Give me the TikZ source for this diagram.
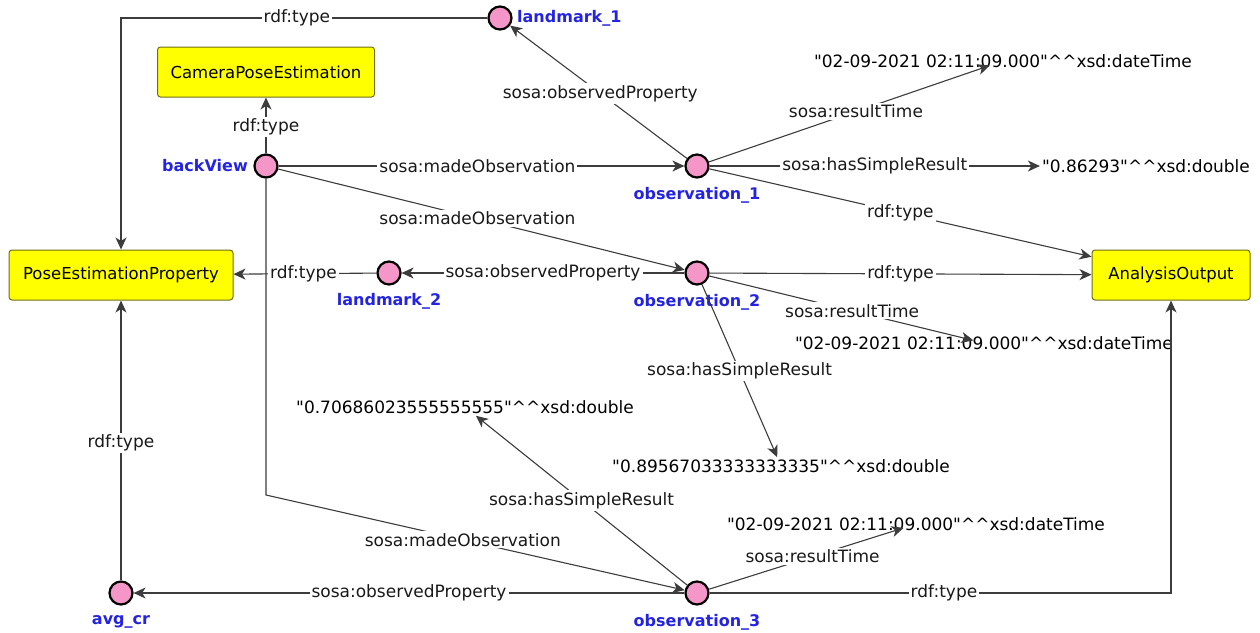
\documentclass[tikz,border=0pt]{standalone}
\usepackage{fontspec}
\setmainfont{DejaVu Sans}[Ligatures=TeXOff]
\usetikzlibrary{arrows.meta}
\definecolor{pinkfill}{RGB}{244,150,200}
\definecolor{boxfill}{RGB}{255,255,0}
\definecolor{boxline}{RGB}{110,110,20}
\definecolor{namecol}{RGB}{35,35,225}
\definecolor{edgecol}{RGB}{60,60,60}
\newcommand{\hh}{\textasciicircum\textasciicircum}
\newcommand{\qq}{"}
\tikzset{
  res/.style={circle, fill=pinkfill, draw=black, line width=2.2pt, minimum size=23pt, inner sep=0pt},
  cls/.style={rectangle, rounded corners=3pt, fill=boxfill, draw=boxline, line width=1pt,
              minimum height=50pt, inner sep=0pt, font=\fontsize{16.5}{19}\selectfont},
  lit/.style={inner sep=2pt, font=\fontsize{17}{20}\selectfont},
  nm/.style={inner sep=0pt, text=namecol, font=\fontsize{16}{19}\selectfont\bfseries},
  lbl/.style={fill=white, inner sep=2pt, text=black!90, font=\fontsize{17}{20}\selectfont},
  arr/.style={draw=edgecol, line width=1.1pt, -{Stealth[length=12pt,width=11pt,inset=3.5pt]}},
}
\begin{document}
\begin{tikzpicture}[x=1pt,y=-1pt]
\useasboundingbox (0,0) rectangle (1260,632);
% resources
\node[res] (lm1) at (500,18) {};
\node[res] (bv) at (266,166) {};
\node[res] (obs1) at (697,166) {};
\node[res] (lm2) at (389,273) {};
\node[res] (obs2) at (697,273) {};
\node[res] (avg) at (121,593) {};
\node[res] (obs3) at (697,593) {};
% resource names
\node[nm, anchor=west] (lm1n) at (517,18) {landmark\_1};
\node[nm, anchor=east] (bvn) at (248,166) {backView};
\node[nm] (obs1n) at (697,195) {observation\_1};
\node[nm] (lm2n) at (389,301) {landmark\_2};
\node[nm] (obs2n) at (697,302) {observation\_2};
\node[nm] (avgn) at (121,622) {avg\_cr};
\node[nm] (obs3n) at (697,622) {observation\_3};
% classes
\node[cls, minimum width=217pt] (cpe) at (266,72) {CameraPoseEstimation};
\node[cls, minimum width=224pt] (pep) at (121,275) {PoseEstimationProperty};
\node[cls, minimum width=158pt] (ao) at (1171,275) {AnalysisOutput};
% literals
\node[lit] (dt1) at (1003,61) {\qq 02-09-2021 02:11:09.000\qq\hh xsd:dateTime};
\node[lit] (d1) at (1146,166) {\qq 0.86293\qq\hh xsd:double};
\node[lit] (dt2) at (984,343) {\qq 02-09-2021 02:11:09.000\qq\hh xsd:dateTime};
\node[lit] (d0706) at (465,407) {\qq 0.70686023555555555\qq\hh xsd:double};
\node[lit] (d0895) at (781,466) {\qq 0.89567033333333335\qq\hh xsd:double};
\node[lit] (dt3) at (916,524) {\qq 02-09-2021 02:11:09.000\qq\hh xsd:dateTime};
\coordinate (bend3) at (266,495);
% edges
\draw[arr] (lm1) -| node[lbl, pos=0.26] {rdf:type} (pep);
\draw[arr] (bv) -- node[lbl, pos=0.47] {rdf:type} (cpe);
\draw[arr] (bv) -- node[lbl, pos=0.49] {sosa:madeObservation} (obs1);
\draw[arr] (bv) -- node[lbl, pos=0.49] {sosa:madeObservation} (obs2);
\draw[arr] (bv) -- (bend3) -- node[lbl, pos=0.47] {sosa:madeObservation} (obs3);
\draw[arr] (obs1) -- node[lbl, pos=0.49] {sosa:observedProperty} (lm1);
\draw[arr, shorten >=14pt] (obs1) -- node[lbl, pos=0.5] {sosa:resultTime} (dt1.center);
\draw[arr] (obs1) -- node[lbl, pos=0.5] {sosa:hasSimpleResult} (d1);
\draw[arr] (obs1) -- node[lbl, pos=0.5] {rdf:type} (ao);
\draw[arr] (obs2) -- node[lbl, pos=0.5] {sosa:observedProperty} (lm2);
\draw[arr] (lm2) -- node[lbl, pos=0.51] {rdf:type} (pep);
\draw[arr] (obs2) -- node[lbl, pos=0.5] {rdf:type} (ao);
\draw[arr, shorten >=11pt] (obs2) -- node[lbl, pos=0.52] {sosa:resultTime} (dt2.center);
\draw[arr] (obs2) -- node[lbl, pos=0.5] {sosa:hasSimpleResult} (d0895);
\draw[arr] (obs3) -- node[lbl, pos=0.5] {sosa:hasSimpleResult} (d0706);
\draw[arr] (obs3) -- node[lbl, pos=0.5] {sosa:observedProperty} (avg);
\draw[arr] (avg) -- node[lbl, pos=0.49] {rdf:type} (pep);
\draw[arr, shorten >=13pt] (obs3) -- node[lbl, pos=0.5] {sosa:resultTime} (dt3.center);
\draw[arr] (obs3) -| node[lbl, pos=0.254] {rdf:type} (ao);
\end{tikzpicture}
\end{document}
